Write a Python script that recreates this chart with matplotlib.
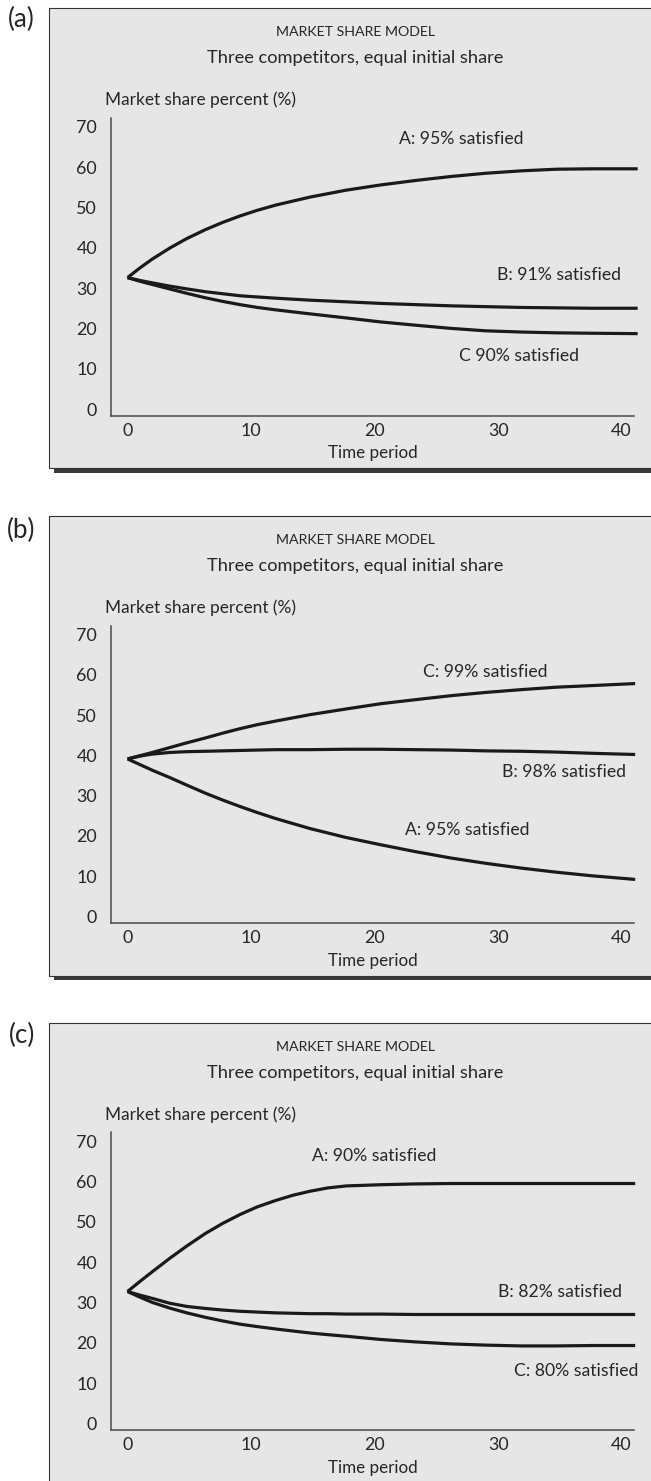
import matplotlib
matplotlib.use("Agg")
import matplotlib.pyplot as plt
from matplotlib.patches import Rectangle

plt.rcParams['font.family'] = ['Lato', 'DejaVu Sans']

# ---------------- data ----------------
panel_tags = ["(a)", "(b)", "(c)"]
title_top = "MARKET SHARE MODEL"
title_sub = "Three competitors, equal initial share"
y_title = "Market share percent (%)"
x_title = "Time period"
x_ticks = [0, 10, 20, 30, 40]
y_ticks = [0, 10, 20, 30, 40, 50, 60, 70]

# panel (a)
a_time = [0, 1, 2, 3.4, 4.8, 6.3, 7.7, 9.1, 10.5, 12, 14.8, 17.7, 20.5, 23.3, 26.2, 29, 31.9, 34.7, 37.6, 41.3]
a_A = [32.6, 35.0, 37.2, 39.9, 42.3, 44.5, 46.3, 47.9, 49.3, 50.6, 52.6, 54.3, 55.6, 56.7, 57.7, 58.5, 59.1, 59.5, 59.6, 59.6]
a_B = [32.6, 31.9, 31.3, 30.5, 29.8, 29.1, 28.6, 28.1, 27.8, 27.5, 27.0, 26.6, 26.2, 25.9, 25.6, 25.4, 25.2, 25.1, 25.0, 25.0]
a_C = [32.6, 31.7, 30.9, 29.8, 28.7, 27.6, 26.7, 25.9, 25.2, 24.6, 23.6, 22.6, 21.6, 20.8, 20.0, 19.4, 19.1, 18.9, 18.8, 18.7]
a_labels = ["A: 95% satisfied", "B: 91% satisfied", "C 90% satisfied"]
a_label_pos = [(27.0, 67.0), (34.9, 33.2), (31.7, 13.2)]

# panel (b)
b_time = [0, 1, 2, 3.4, 4.8, 6.3, 7.7, 9.1, 10.5, 12, 14.8, 17.7, 20.5, 23.3, 26.2, 29, 31.9, 34.7, 37.6, 41.1]
b_A = [39.1, 37.7, 36.3, 34.5, 32.6, 30.6, 28.9, 27.3, 25.8, 24.3, 21.8, 19.6, 17.8, 16.1, 14.5, 13.2, 12.0, 11.0, 10.1, 9.2]
b_B = [39.1, 39.8, 40.3, 40.7, 40.9, 41.0, 41.1, 41.2, 41.3, 41.4, 41.4, 41.5, 41.5, 41.4, 41.3, 41.1, 41.0, 40.8, 40.5, 40.2]
b_C = [39.1, 39.9, 40.7, 41.9, 43.1, 44.3, 45.5, 46.6, 47.6, 48.5, 50.1, 51.5, 52.8, 53.8, 54.8, 55.6, 56.3, 56.9, 57.3, 57.8]
b_labels = ["A: 95% satisfied", "B: 98% satisfied", "C: 99% satisfied"]
b_label_pos = [(27.5, 21.5), (35.3, 35.9), (29.0, 60.7)]

# panel (c)
c_time = [0, 1, 2, 3.4, 4.8, 6.3, 7.7, 9.1, 10.5, 12, 13.4, 14.8, 16.2, 17.7, 20.5, 23.3, 26.2, 29, 31.9, 34.7, 37.6, 41.1]
c_A = [32.7, 35.2, 37.6, 40.9, 44.0, 47.1, 49.6, 51.8, 53.7, 55.3, 56.6, 57.6, 58.4, 58.9, 59.2, 59.4, 59.5, 59.5, 59.5, 59.5, 59.5, 59.5]
c_B = [32.7, 31.8, 31.0, 29.8, 29.0, 28.5, 28.1, 27.8, 27.6, 27.4, 27.3, 27.2, 27.2, 27.1, 27.1, 27.0, 27.0, 27.0, 27.0, 27.0, 27.0, 27.0]
c_C = [32.7, 31.3, 30.0, 28.6, 27.4, 26.3, 25.4, 24.6, 24.0, 23.4, 22.9, 22.4, 22.0, 21.6, 20.8, 20.2, 19.7, 19.4, 19.2, 19.2, 19.3, 19.3]
c_labels = ["A: 90% satisfied", "B: 82% satisfied", "C: 80% satisfied"]
c_label_pos = [(20.0, 66.3), (35.0, 32.5), (36.3, 13.0)]

panels = [
    (a_time, [a_A, a_B, a_C], a_labels, a_label_pos),
    (b_time, [b_A, b_B, b_C], b_labels, b_label_pos),
    (c_time, [c_A, c_B, c_C], c_labels, c_label_pos),
]

# ---------------- layout (pixels) ----------------
W, H = 651, 1481
DPI = 100
zero_px = [409.0, 916.5, 1423.3]
tag_y = [19.0, 530.7, 1035.0]
px_per_unit_y = 4.03
x0_px, px_per_unit_x = 127.6, 12.35
ax_left_px = 111.0
xlim = (-1.34, 41.5)
TEXT = "#262626"
LINE = "#1a1a1a"
SPINE = "#4a4a4a"

fig = plt.figure(figsize=(W / DPI, H / DPI), dpi=DPI)
fig.patch.set_facecolor("white")

bg = fig.add_axes([0, 0, 1, 1], zorder=0)
bg.set_xlim(0, W)
bg.set_ylim(H, 0)
bg.axis("off")

renderer = fig.canvas.get_renderer()


def fitted_size(s, target):
    t = bg.text(0, 0, s, fontsize=10)
    w = t.get_window_extent(renderer).width
    t.remove()
    return 10 * target / w


tick_size = fitted_size("40", 18.0) * 1.15
curve_label_size = fitted_size("A: 95% satisfied", 124.0)
tag_size = fitted_size("(a)", 27.0)
top_size = fitted_size(title_top, 159.0)
sub_size = fitted_size(title_sub, 297.0)
ytitle_size = fitted_size(y_title, 191.0)
xtitle_size = fitted_size(x_title, 90.0)

for i, (time, series, labels, lpos) in enumerate(panels):
    z = zero_px[i]
    box_top = z - 400.7
    box_h = 460.0
    # shadow and box
    bg.add_patch(Rectangle((49.3 + 5, box_top + 4.5), 700, box_h, facecolor="#3a3a3a",
                           edgecolor="none", zorder=1))
    bg.add_patch(Rectangle((49.3, box_top), 700, box_h, facecolor="#e6e6e6",
                           edgecolor="#333333", linewidth=0.8, zorder=2))
    bg.text(21.5, tag_y[i], panel_tags[i], fontsize=tag_size, color=TEXT,
            ha="center", va="center", zorder=3)
    bg.text(355.8, z - 376.7, title_top, fontsize=top_size, color=TEXT,
            ha="center", va="center", zorder=3)
    bg.text(355.0, z - 350.7, title_sub, fontsize=sub_size, color=TEXT,
            ha="center", va="center", zorder=3)
    bg.text(105.0, z - 309.0, y_title, fontsize=ytitle_size, color=TEXT,
            ha="left", va="center", zorder=3)
    bg.text(372.8, z + 44.3, x_title, fontsize=xtitle_size, color=TEXT,
            ha="center", va="center", zorder=3)

    # plot axes
    ax_bottom_px = z + 6.7
    ax_top_px = z - 291.0
    right_px = x0_px + px_per_unit_x * xlim[1]
    ax = fig.add_axes([ax_left_px / W, (H - ax_bottom_px) / H,
                       (right_px - ax_left_px) / W, (ax_bottom_px - ax_top_px) / H],
                      zorder=5)
    ax.patch.set_alpha(0)
    ax.set_xlim(*xlim)
    ax.set_ylim(-6.7 / px_per_unit_y, 291.0 / px_per_unit_y)
    for s in ("top", "right"):
        ax.spines[s].set_visible(False)
    for s in ("left", "bottom"):
        ax.spines[s].set_color(SPINE)
        ax.spines[s].set_linewidth(1.1)
    ax.spines["bottom"].set_bounds(xlim[0], 41.0)
    ax.set_xticks(x_ticks)
    ax.set_yticks(y_ticks)
    ax.tick_params(axis="both", length=0, labelsize=tick_size, labelcolor=TEXT)
    ax.tick_params(axis="y", pad=10)
    ax.tick_params(axis="x", pad=5)

    for vals in series:
        ax.plot(time, vals, color=LINE, linewidth=2.3, solid_capstyle="butt",
                solid_joinstyle="round", clip_on=False)
    for lab, (lx, ly) in zip(labels, lpos):
        ax.text(lx, ly, lab, fontsize=curve_label_size, color=TEXT,
                ha="center", va="center")

fig.savefig("out.png", dpi=DPI, facecolor="white")
